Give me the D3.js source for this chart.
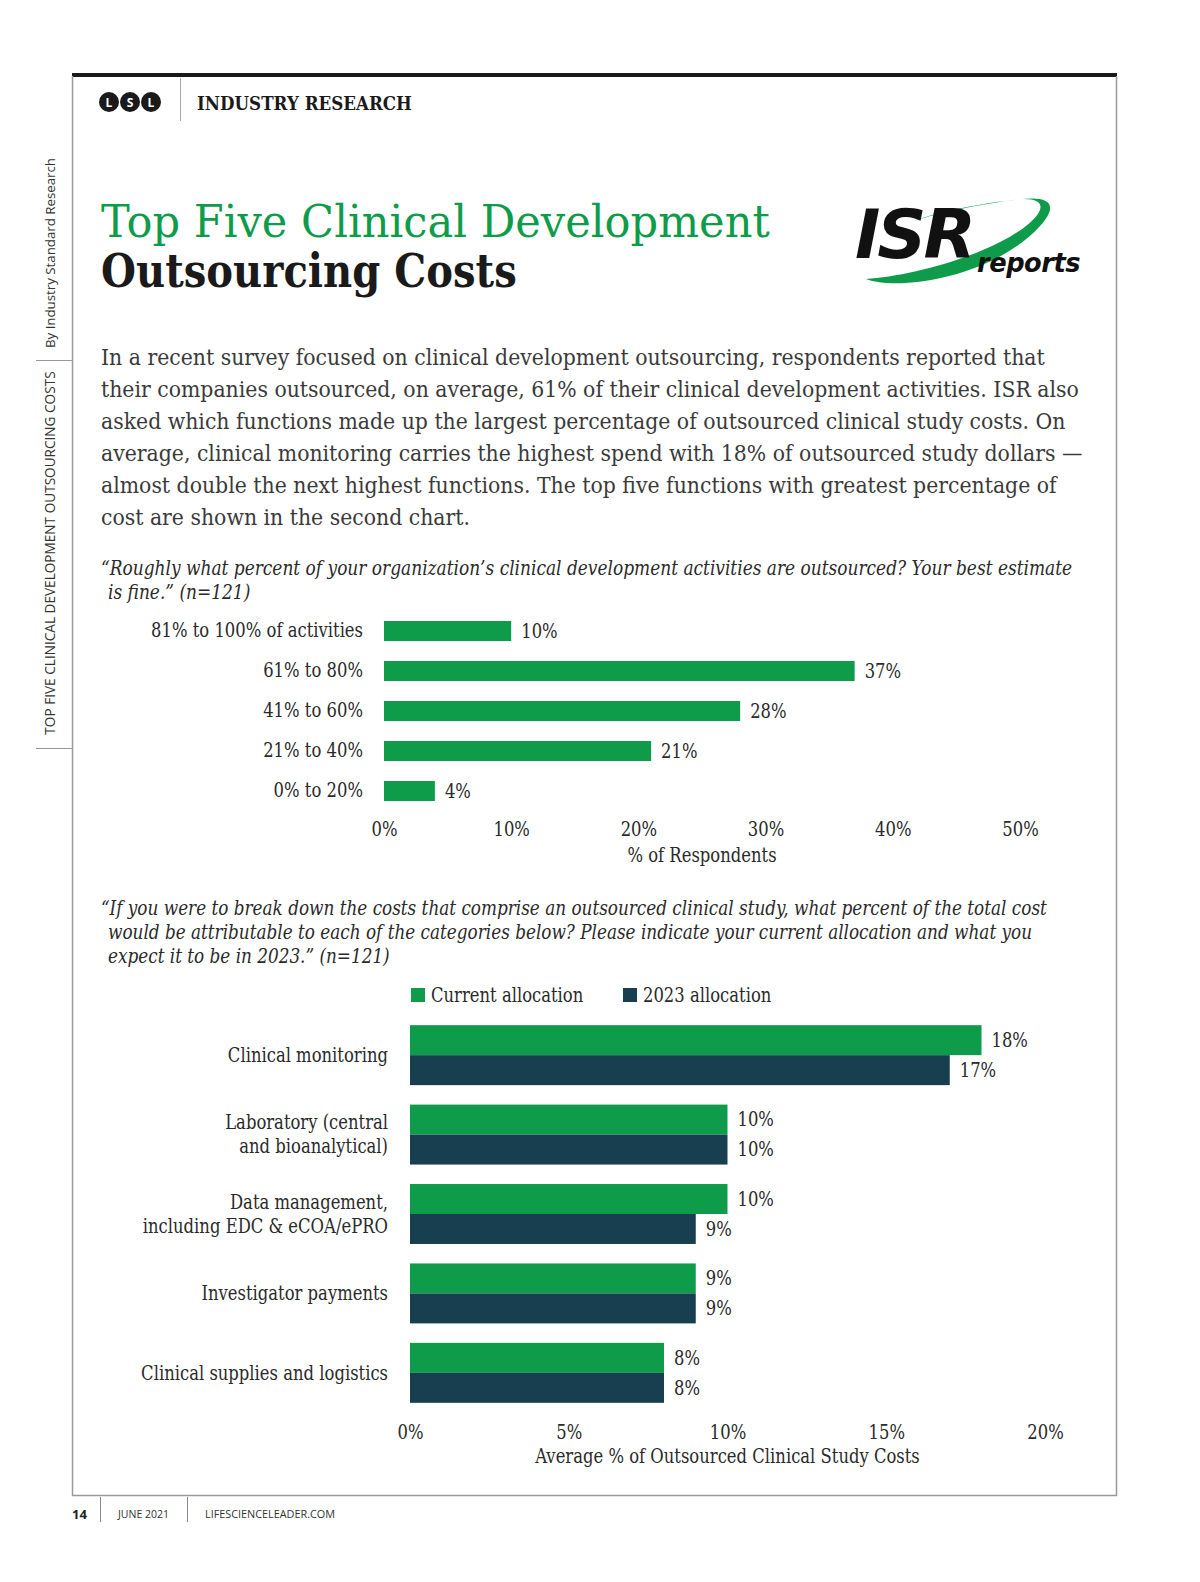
<!DOCTYPE html>
<html>
<head>
<meta charset="utf-8">
<script src="https://cdn.jsdelivr.net/npm/d3@7"></script>
<style>
  html, body { margin: 0; background: #fff; overflow: hidden; }
  svg { display: block; }
</style>
</head>
<body>
<svg id="page" width="1200" height="1582"></svg>
<script>
// Данные первого графика
const outsourcedCats = ['81% to 100% of activities', '61% to 80%', '41% to 60%', '21% to 40%', '0% to 20%']
const outsourcedVals = [10, 37, 28, 21, 4]
const ticks1 = [0, 10, 20, 30, 40, 50]

// Данные второго графика
const costCats = [
  ['Clinical monitoring'],
  ['Laboratory (central', 'and bioanalytical)'],
  ['Data management,', 'including EDC & eCOA/ePRO'],
  ['Investigator payments'],
  ['Clinical supplies and logistics']
]
const currentVals = [18, 10, 10, 9, 8]
const alloc2023Vals = [17, 10, 9, 9, 8]
const seriesNames = ['Current allocation', '2023 allocation']
const ticks2 = [0, 5, 10, 15, 20]

const bodyLines = [
  'In a recent survey focused on clinical development outsourcing, respondents reported that',
  'their companies outsourced, on average, 61% of their clinical development activities. ISR also',
  'asked which functions made up the largest percentage of outsourced clinical study costs. On',
  'average, clinical monitoring carries the highest spend with 18% of outsourced study dollars —',
  'almost double the next highest functions. The top five functions with greatest percentage of',
  'cost are shown in the second chart.'
]
const q1Lines = [
  '“Roughly what percent of your organization’s clinical development activities are outsourced? Your best estimate',
  'is fine.” (n=121)'
]
const q2Lines = [
  '“If you were to break down the costs that comprise an outsourced clinical study, what percent of the total cost',
  'would be attributable to each of the categories below? Please indicate your current allocation and what you',
  'expect it to be in 2023.” (n=121)'
]

const GREEN = '#0e9c4a'
const DARK = '#173f4f'
const TEXT = '#2a2a2a'
const SERIF = '"DejaVu Serif", "Liberation Serif", serif'
const SANS = '"Open Sans", "DejaVu Sans", sans-serif'

const svg = d3.select('#page')

// подгонка размера шрифта под ширину
function fitSize(sel, width){
  let node = sel.node()
  let fs = parseFloat(sel.attr('font-size'))
  for(let i = 0; i < 3; i++){
    let len = node.getComputedTextLength()
    fs = fs * width / len
    sel.attr('font-size', fs)
  }
  return fs
}
// сжатие по горизонтали вокруг точки привязки текста
function squashFactor(sel, width){
  return width / sel.node().getComputedTextLength()
}
function squash(selection, k){
  selection.each(function(){
    let x = +(this.getAttribute('x') || 0)
    d3.select(this).attr('transform', `translate(${x},0) scale(${k},1) translate(${-x},0)`)
  })
}

// рамка страницы
svg.append('rect').attr('x', 72).attr('y', 73).attr('width', 1045).attr('height', 4).attr('fill', '#1a1a1a')
svg.append('line').attr('x1', 72.5).attr('y1', 76).attr('x2', 72.5).attr('y2', 1496).attr('stroke', '#9a9a9a').attr('stroke-width', 1.5)
svg.append('line').attr('x1', 1116.5).attr('y1', 76).attr('x2', 1116.5).attr('y2', 1496).attr('stroke', '#9a9a9a').attr('stroke-width', 1.5)
svg.append('line').attr('x1', 72).attr('y1', 1495.5).attr('x2', 1117).attr('y2', 1495.5).attr('stroke', '#9a9a9a').attr('stroke-width', 1.5)

// шапка
const lsl = ['L', 'S', 'L']
lsl.forEach((ch, i) => {
  svg.append('circle').attr('cx', 109 + i * 21).attr('cy', 102).attr('r', 10).attr('fill', '#1a1a1a')
  svg.append('text').attr('x', 109 + i * 21).attr('y', 106.5).attr('text-anchor', 'middle')
    .attr('font-family', SANS).attr('font-weight', 700).attr('font-size', 12).attr('fill', '#fff').text(ch)
})
svg.append('line').attr('x1', 180.5).attr('y1', 78).attr('x2', 180.5).attr('y2', 121).attr('stroke', '#aaa')
let hdr = svg.append('text').attr('x', 197).attr('y', 110).attr('font-family', SERIF).attr('font-weight', 700)
  .attr('font-size', 19).attr('fill', '#1a1a1a').text('INDUSTRY RESEARCH')
squash(hdr, squashFactor(hdr, 215))

// боковая надпись
let side1 = svg.append('text').attr('transform', 'translate(55,253) rotate(-90)').attr('text-anchor', 'middle')
  .attr('font-family', SANS).attr('font-size', 12).attr('fill', '#333').text('By Industry Standard Research')
fitSize(side1, 190)
let side2 = svg.append('text').attr('transform', 'translate(55,553) rotate(-90)').attr('text-anchor', 'middle')
  .attr('font-family', SANS).attr('font-size', 12).attr('fill', '#333').text('TOP FIVE CLINICAL DEVELOPMENT OUTSOURCING COSTS')
fitSize(side2, 363)
svg.append('line').attr('x1', 36).attr('y1', 360.5).attr('x2', 72).attr('y2', 360.5).attr('stroke', '#999')
svg.append('line').attr('x1', 36).attr('y1', 748.5).attr('x2', 72).attr('y2', 748.5).attr('stroke', '#999')

// заголовок
let t1 = svg.append('text').attr('x', 101).attr('y', 237).attr('font-family', SERIF)
  .attr('font-size', 45).attr('fill', GREEN).text('Top Five Clinical Development')
squash(t1, squashFactor(t1, 669))
let t2 = svg.append('text').attr('x', 101).attr('y', 287).attr('font-family', SERIF).attr('font-weight', 700)
  .attr('font-size', 46).attr('fill', '#1a1a1a').text('Outsourcing Costs')
squash(t2, squashFactor(t2, 416))

// логотип ISR
const logo = svg.append('g')
logo.append('path')
  .attr('d', 'M866,279 C900,292 995,276 1040,226 C1058,206 1052,196 1022,199 C1056,198 1040,222 1000,242 C960,263 900,277 866,279 Z')
  .attr('fill', GREEN)
logo.append('path')
  .attr('d', 'M1022,199 C985,203 935,213 905,224 C940,210 990,202 1022,199 Z')
  .attr('fill', GREEN)
let isr = logo.append('text').attr('x', 855).attr('y', 258).attr('font-family', '"DejaVu Sans", sans-serif')
  .attr('font-weight', 700).attr('font-style', 'italic').attr('font-size', 58).attr('letter-spacing', -3)
  .attr('fill', '#111').text('ISR')
fitSize(isr, 118)
let rep = logo.append('text').attr('x', 977).attr('y', 272).attr('font-family', '"DejaVu Sans", sans-serif')
  .attr('font-weight', 700).attr('font-style', 'italic').attr('font-size', 20).attr('letter-spacing', -0.5)
  .attr('fill', '#111').text('reports')
fitSize(rep, 103)

// текст статьи
const body = svg.append('g')
body.selectAll('text').data(bodyLines).join('text')
  .attr('x', 101).attr('y', (d, i) => 365 + i * 32).attr('font-family', SERIF)
  .attr('font-size', 23).attr('fill', '#3a3a3a').text(d => d)
let bk = squashFactor(body.select('text:nth-child(2)'), 978)
squash(body.selectAll('text'), bk)

// вопросы
function question(lines, y0, firstWidth){
  let g = svg.append('g')
  g.selectAll('text').data(lines).join('text')
    .attr('x', (d, i) => i == 0 ? 101 : 108).attr('y', (d, i) => y0 + i * 24).attr('font-family', SERIF)
    .attr('font-style', 'italic').attr('font-size', 19.5).attr('fill', TEXT).text(d => d)
  let k = squashFactor(g.select('text'), firstWidth)
  squash(g.selectAll('text'), k)
}
question(q1Lines, 575, 972)
question(q2Lines, 915, 946)

// первый график
const LABEL_FS = 19.5
const x1 = d3.scaleLinear().domain([0, 50]).range([384, 1020])
const y1 = d3.scaleBand().domain(outsourcedCats).range([611, 811]).paddingInner(0.5).paddingOuter(0.25)

const chart1 = svg.append('g')
chart1.selectAll('rect').data(outsourcedVals).join('rect')
  .attr('x', x1(0)).attr('y', (d, i) => y1(outsourcedCats[i]))
  .attr('width', d => x1(d) - x1(0)).attr('height', y1.bandwidth())
  .attr('fill', GREEN)

let probe = chart1.append('text').attr('font-family', SERIF).attr('font-size', LABEL_FS).text(outsourcedCats[0])
const lk = squashFactor(probe, 212)
probe.remove()

chart1.selectAll('text.val').data(outsourcedVals).join('text').attr('class', 'val')
  .attr('x', d => x1(d) + 10).attr('y', (d, i) => y1(outsourcedCats[i]) + y1.bandwidth() / 2)
  .attr('dy', '0.35em').attr('font-family', SERIF).attr('font-size', LABEL_FS).attr('fill', TEXT)
  .text(d => d + '%')

const yAxis1 = chart1.append('g').attr('transform', 'translate(363,0)')
  .call(d3.axisLeft(y1).tickSize(0).tickPadding(0))
yAxis1.select('.domain').remove()
yAxis1.selectAll('text').attr('font-family', SERIF).attr('font-size', LABEL_FS).attr('fill', TEXT)

const xAxis1 = chart1.append('g').attr('transform', 'translate(0,822)')
  .call(d3.axisBottom(x1).tickValues(ticks1).tickFormat(d => d + '%').tickSize(0).tickPadding(0))
xAxis1.select('.domain').remove()
xAxis1.selectAll('text').attr('font-family', SERIF).attr('font-size', LABEL_FS).attr('fill', TEXT)
chart1.append('text').attr('x', (x1(0) + x1(50)) / 2).attr('y', 862).attr('text-anchor', 'middle')
  .attr('font-family', SERIF).attr('font-size', LABEL_FS).attr('fill', TEXT).text('% of Respondents')
squash(chart1.selectAll('text'), lk)

// второй график
const x2 = d3.scaleLinear().domain([0, 20]).range([410, 1045])
const groups = costCats.map(d => d.join(' '))
const y2 = d3.scaleBand().domain(groups).range([1015.25, 1412.75]).paddingInner(0.245).paddingOuter(0.125)
const sub = d3.scaleBand().domain([0, 1]).range([0, y2.bandwidth()])
const colors = [GREEN, DARK]

// легенда
const legend = svg.append('g')
const legendX = [411, 623]
seriesNames.forEach((name, i) => {
  legend.append('rect').attr('x', legendX[i]).attr('y', 988).attr('width', 14).attr('height', 14).attr('fill', colors[i])
  legend.append('text').attr('x', legendX[i] + 20).attr('y', 995).attr('dy', '0.35em')
    .attr('font-family', SERIF).attr('font-size', LABEL_FS).attr('fill', TEXT).text(name)
})
squash(legend.selectAll('text'), lk)

const chart2 = svg.append('g')
const rows = []
groups.forEach((g, i) => {
  rows.push({ g: g, s: 0, v: currentVals[i] })
  rows.push({ g: g, s: 1, v: alloc2023Vals[i] })
})
chart2.selectAll('rect').data(rows).join('rect')
  .attr('x', x2(0)).attr('y', d => y2(d.g) + sub(d.s))
  .attr('width', d => x2(d.v) - x2(0)).attr('height', sub.bandwidth())
  .attr('fill', d => colors[d.s])
chart2.selectAll('text.val').data(rows).join('text').attr('class', 'val')
  .attr('x', d => x2(d.v) + 10).attr('y', d => y2(d.g) + sub(d.s) + sub.bandwidth() / 2)
  .attr('dy', '0.35em').attr('font-family', SERIF).attr('font-size', LABEL_FS).attr('fill', TEXT)
  .text(d => d.v + '%')

const yAxis2 = chart2.append('g').attr('transform', 'translate(388,0)')
  .call(d3.axisLeft(y2).tickSize(0).tickPadding(0))
yAxis2.select('.domain').remove()
yAxis2.selectAll('.tick').each(function(d, i){
  let tick = d3.select(this)
  tick.select('text').remove()
  let lines = costCats[i]
  tick.selectAll('text.ln').data(lines).join('text').attr('class', 'ln')
    .attr('x', 0).attr('y', (ln, j) => (j - (lines.length - 1) / 2) * 24)
    .attr('dy', '0.35em').attr('text-anchor', 'end')
    .attr('font-family', SERIF).attr('font-size', LABEL_FS).attr('fill', TEXT).text(ln => ln)
})

const xAxis2 = chart2.append('g').attr('transform', 'translate(0,1425)')
  .call(d3.axisBottom(x2).tickValues(ticks2).tickFormat(d => d + '%').tickSize(0).tickPadding(0))
xAxis2.select('.domain').remove()
xAxis2.selectAll('text').attr('font-family', SERIF).attr('font-size', LABEL_FS).attr('fill', TEXT)
chart2.append('text').attr('x', (x2(0) + x2(20)) / 2).attr('y', 1463).attr('text-anchor', 'middle')
  .attr('font-family', SERIF).attr('font-size', LABEL_FS).attr('fill', TEXT).text('Average % of Outsourced Clinical Study Costs')
squash(chart2.selectAll('text'), lk)

// подвал
let pg = svg.append('text').attr('x', 72).attr('y', 1519).attr('font-family', SANS).attr('font-weight', 700)
  .attr('font-size', 14).attr('fill', '#222').text('14')
fitSize(pg, 15)
svg.append('line').attr('x1', 100.5).attr('y1', 1497).attr('x2', 100.5).attr('y2', 1522).attr('stroke', '#888')
let jn = svg.append('text').attr('x', 118).attr('y', 1518).attr('font-family', SANS)
  .attr('font-size', 10.5).attr('fill', '#333').text('JUNE 2021')
fitSize(jn, 51)
svg.append('line').attr('x1', 187.5).attr('y1', 1497).attr('x2', 187.5).attr('y2', 1522).attr('stroke', '#888')
let site = svg.append('text').attr('x', 205).attr('y', 1518).attr('font-family', SANS)
  .attr('font-size', 10.5).attr('fill', '#333').text('LIFESCIENCELEADER.COM')
fitSize(site, 130)
</script>
</body>
</html>
